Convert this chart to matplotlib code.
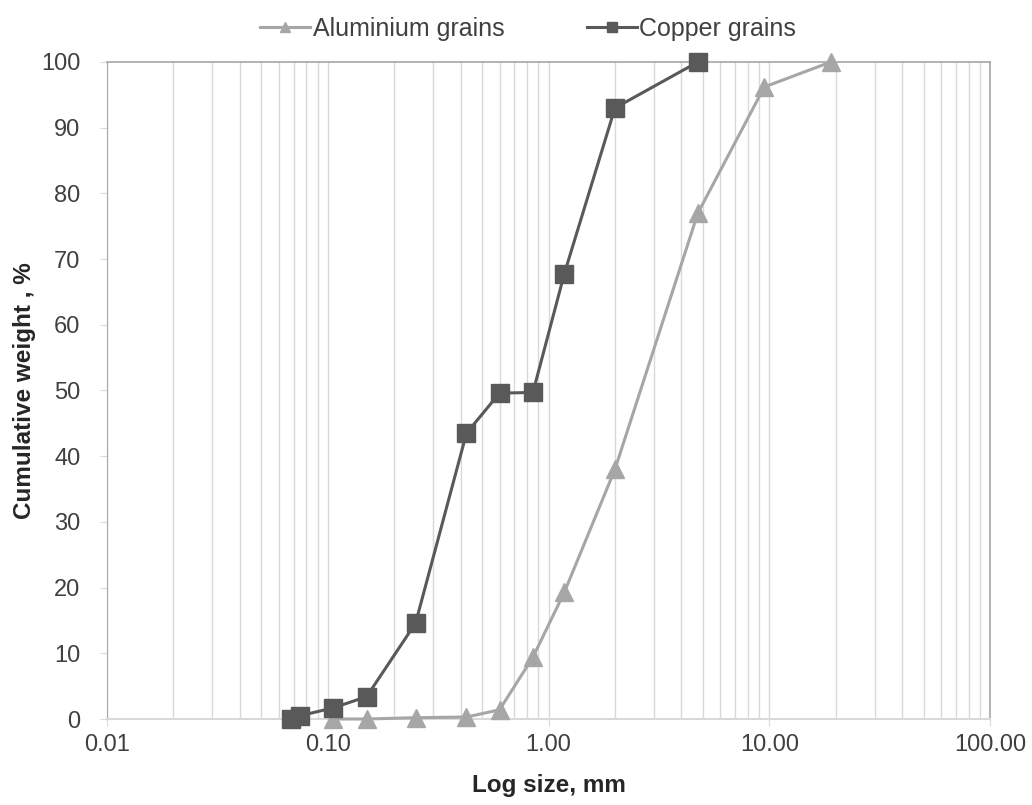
import numpy as np
import matplotlib
matplotlib.use("Agg")
import matplotlib.pyplot as plt
from matplotlib.ticker import FixedLocator, FixedFormatter, LogLocator, NullFormatter

plt.rcParams['font.family'] = ['Liberation Sans', 'DejaVu Sans']

# sieve sizes (mm) and cumulative weight passing (%)
alu_size = [0.106, 0.15, 0.25, 0.425, 0.6, 0.85, 1.18, 2.0, 4.75, 9.5, 19.0]
alu_cum = [0.0, 0.0, 0.2, 0.3, 1.4, 9.4, 19.3, 38.0, 77.0, 96.2, 100.0]

cu_size = [0.068, 0.075, 0.106, 0.15, 0.25, 0.425, 0.6, 0.85, 1.18, 2.0, 4.75]
cu_cum = [0.0, 0.5, 1.7, 3.4, 14.6, 43.5, 49.6, 49.7, 67.8, 93.0, 100.0]

xticks = [0.01, 0.1, 1, 10, 100]
xticklabels = ["0.01", "0.10", "1.00", "10.00", "100.00"]
yticks = list(range(0, 101, 10))

fig = plt.figure(figsize=(10.32, 8.05), dpi=100)
ax = fig.add_axes([107/1032, 1 - 719/805, (990-107)/1032, (719-62)/805])

ax.plot(alu_size, alu_cum, color='#a6a6a6', lw=2.2, marker='^', ms=12.5,
        label='Aluminium grains', zorder=3, clip_on=False)
ax.plot(cu_size, cu_cum, color='#595959', lw=2.2, marker='s', ms=13,
        label='Copper grains', zorder=4, clip_on=False)

ax.set_xscale('log')
ax.set_xlim(0.01, 100)
ax.set_ylim(0, 100)

ax.xaxis.set_major_locator(FixedLocator(xticks))
ax.xaxis.set_major_formatter(FixedFormatter(xticklabels))
ax.xaxis.set_minor_locator(LogLocator(base=10, subs=np.arange(2, 10)))
ax.xaxis.set_minor_formatter(NullFormatter())
ax.set_yticks(yticks)

ax.grid(True, which='both', axis='x', color='#d9d9d9', lw=1)
ax.set_axisbelow(True)

for s in ['top', 'right']:
    ax.spines[s].set_color('#a6a6a6')
    ax.spines[s].set_linewidth(1.2)
ax.spines['left'].set_color('#a6a6a6')
ax.spines['bottom'].set_color('#d9d9d9')
ax.spines['bottom'].set_linewidth(1.5)

ax.tick_params(axis='x', which='major', length=5, color='#d9d9d9', labelsize=17,
               labelcolor='#404040', pad=6)
ax.tick_params(axis='x', which='minor', length=0)
ax.tick_params(axis='y', length=5, color='#d9d9d9', labelsize=17,
               labelcolor='#404040', pad=14)

ax.set_xlabel('Log size, mm', fontsize=17.5, fontweight='bold', color='#262626', labelpad=13)
ax.set_ylabel('Cumulative weight , %', fontsize=17.5, fontweight='bold', color='#262626', labelpad=4)

leg = ax.legend(loc='center', bbox_to_anchor=(0.477, 1.05), ncol=2, frameon=False,
                fontsize=18, markerscale=0.55, handlelength=2.0, columnspacing=3.3,
                handletextpad=0.1, labelcolor='#404040')

fig.savefig('out.png', dpi=100)
